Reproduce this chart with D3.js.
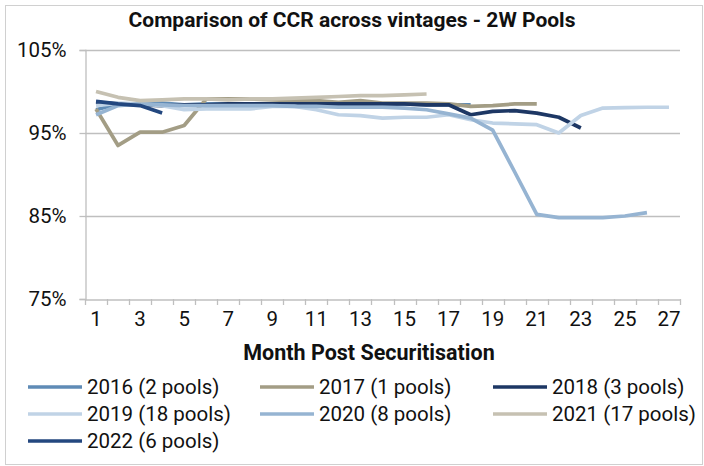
<!DOCTYPE html>
<html><head><meta charset="utf-8">
<script src="https://cdn.jsdelivr.net/npm/d3@7"></script>
<style>
html,body{margin:0;padding:0;background:#fff;}
svg{display:block;font-family:Roboto, "Liberation Sans", sans-serif;}
</style></head>
<body><svg id="chart" width="704" height="466"></svg>
<script>
const months = d3.range(1, 28);
const tickLabels = ["1","3","5","7","9","11","13","15","17","19","21","23","25","27"];
const yTicks = [75, 85, 95, 105];
const seriesNames = ["2016 (2 pools)","2017 (1 pools)","2018 (3 pools)","2019 (18 pools)","2020 (8 pools)","2021 (17 pools)","2022 (6 pools)"];
const seriesColors = ["#5f8bb6","#a39d85","#1d3764","#c0d3e6","#96b4d2","#c6c1b2","#23477f"];
const s2016 = [97.8,98.5,98.5,98.6,98.4,98.5,98.5,98.5,98.5,98.5,98.5,98.5,98.5,98.5,98.5,98.4,98.4,98.4];
const s2017 = [97.9,93.5,95.1,95.1,95.9,99.1,99.1,99.1,99.0,98.9,98.9,98.7,98.9,98.6,98.6,98.6,98.5,98.2,98.3,98.5,98.5];
const s2018 = [98.7,98.5,98.4,98.3,98.4,98.4,98.5,98.5,98.5,98.5,98.5,98.5,98.5,98.5,98.5,98.4,98.4,97.2,97.6,97.7,97.4,96.9,95.6];
const s2019 = [98.3,98.6,98.5,98.3,97.8,97.9,97.9,97.9,98.2,98.2,97.8,97.2,97.1,96.8,96.9,96.9,97.2,96.6,96.2,96.1,96.0,95.0,97.1,98.0,98.05,98.1,98.1];
const s2020 = [97.2,98.3,98.5,98.4,98.3,98.3,98.3,98.3,98.3,98.2,98.2,98.1,98.1,98.1,98.0,97.8,97.3,96.8,95.35,90.3,85.2,84.8,84.8,84.8,85.0,85.4];
const s2021 = [100.0,99.3,98.9,99.0,99.1,99.1,99.0,99.1,99.1,99.2,99.3,99.4,99.5,99.5,99.6,99.7];
const s2022 = [98.8,98.5,98.3,97.4];
const seriesValues = [s2016,s2017,s2018,s2019,s2020,s2021,s2022];

const svg = d3.select("#chart");
const grid = "#bfbfbf";
svg.append("rect").attr("x",5.5).attr("y",5.5).attr("width",697).attr("height",459)
  .attr("fill","#fff").attr("stroke","#d0d0d0");

const x = d3.scaleBand().domain(months).range([85,680]);
const y = d3.scaleLinear().domain([75,105]).range([299,50]);

svg.append("text").attr("x",352).attr("y",27).attr("text-anchor","middle")
  .attr("font-weight","bold").attr("font-size",21).attr("fill","#111")
  .text("Comparison of CCR across vintages - 2W Pools");

// gridlines
svg.append("g").selectAll("line").data(yTicks.filter(d=>d>75)).join("line")
  .attr("x1",85).attr("x2",680).attr("y1",d=>Math.round(y(d))+0.5).attr("y2",d=>Math.round(y(d))+0.5)
  .attr("stroke",grid).attr("stroke-width",1.3);

// y axis
const yAxis = svg.append("g").attr("transform","translate(85.5,0)")
  .call(d3.axisLeft(y).tickValues(yTicks).tickFormat(d=>d+"%").tickSize(6).tickPadding(13));
yAxis.select(".domain").attr("stroke",grid).attr("stroke-width",1.3);
yAxis.selectAll(".tick line").attr("stroke",grid).attr("stroke-width",1.3);
yAxis.selectAll("text").attr("font-size",20.5).attr("fill","#111").attr("font-family","Roboto");

// x axis
const xAxis = svg.append("g").attr("transform","translate(0,299.5)")
  .call(d3.axisBottom(x).tickValues(months.filter(m=>tickLabels.includes(String(m)))).tickSize(0).tickPadding(12));
xAxis.select(".domain").attr("stroke",grid).attr("stroke-width",1.3);
xAxis.selectAll("text").attr("font-size",20.5).attr("fill","#111").attr("font-family","Roboto");
// category boundary ticks
svg.append("g").selectAll("line").data(d3.range(0,28)).join("line")
  .attr("x1",i=>Math.round(85+i*x.step())+0.5).attr("x2",i=>Math.round(85+i*x.step())+0.5)
  .attr("y1",299).attr("y2",305).attr("stroke",grid).attr("stroke-width",1.3);

svg.append("text").attr("x",369).attr("y",360).attr("text-anchor","middle")
  .attr("font-weight","bold").attr("font-size",21.5).attr("fill","#111")
  .text("Month Post Securitisation");

// lines
const line = d3.line().x((d,i)=>x(i+1)+x.bandwidth()/2).y(d=>y(d)).curve(d3.curveLinear);
svg.append("g").selectAll("path").data(seriesValues).join("path")
  .attr("d",d=>line(d)).attr("fill","none")
  .attr("stroke",(d,i)=>seriesColors[i]).attr("stroke-width",3.7)
  .attr("stroke-linejoin","round").attr("stroke-linecap","butt");

// legend
const colX = [28,260,493];
const rowY = [387,414,441];
const lg = svg.append("g").selectAll("g").data(seriesNames).join("g")
  .attr("transform",(d,i)=>`translate(${colX[i%3]},${rowY[Math.floor(i/3)]})`);
lg.append("line").attr("x1",0).attr("x2",54).attr("y1",0).attr("y2",0)
  .attr("stroke",(d,i)=>seriesColors[i]).attr("stroke-width",3.7);
lg.append("text").attr("x",59).attr("y",0).attr("dy","0.35em")
  .attr("font-size",20.5).attr("fill","#111").text(d=>d);
</script></body></html>
